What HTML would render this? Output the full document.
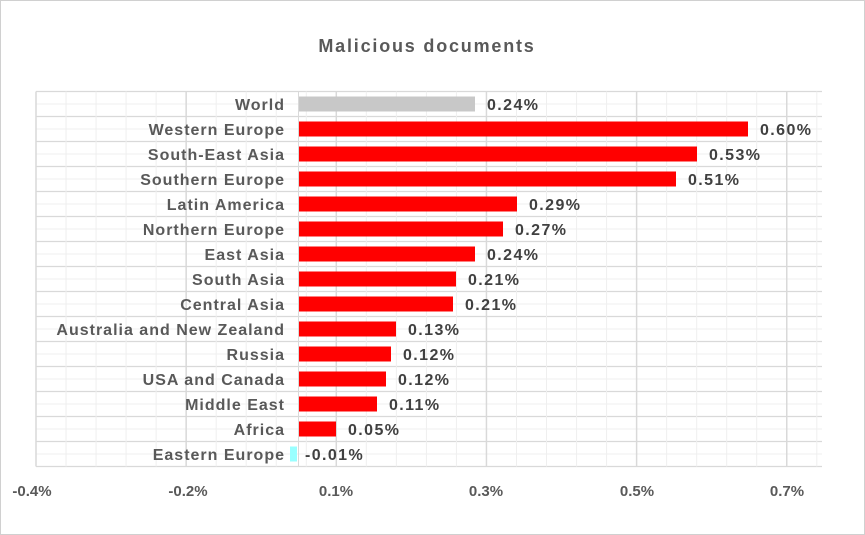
<!DOCTYPE html>
<html><head><style>
body{margin:0;background:#fff;}
svg{display:block;font-family:"Liberation Sans",sans-serif;font-weight:bold;}
</style></head><body>
<svg width="865" height="535" xmlns="http://www.w3.org/2000/svg">
<rect x="0.5" y="0.5" width="864" height="534" fill="#fff" stroke="#d0d0d0"/>
<text x="427" y="52" text-anchor="middle" font-size="18" letter-spacing="1.8" fill="#595959">Malicious documents</text>
<g id="grid"></g>
<g id="bars"></g>
<g font-size="15" fill="#595959" text-anchor="middle">
<text x="32" y="496">-0.4%</text><text x="188" y="496">-0.2%</text><text x="336" y="496">0.1%</text>
<text x="486" y="496">0.3%</text><text x="637" y="496">0.5%</text><text x="787" y="496">0.7%</text>
</g>
<script>
(function(){
var ns="http://www.w3.org/2000/svg";
var g=document.getElementById("grid"),b=document.getElementById("bars");
function el(p,t,a,txt){var e=document.createElementNS(ns,t);for(var k in a)e.setAttribute(k,a[k]);if(txt)e.textContent=txt;p.appendChild(e);return e;}
var T=91.5,B=466.5,L=36,R=822;
for(var i=0;i<=30;i++){var y=T+i*12.5;el(g,"line",{x1:L,x2:R,y1:y,y2:y,stroke:i%2?"#efefef":"#d9d9d9","stroke-width":i%2?1:1.3});}
for(var k=0;k*30.03+L<=R+1;k++){var x=L+k*30.03;el(g,"line",{x1:x,x2:x,y1:T,y2:B,stroke:k%5==0?"#d9d9d9":"#efefef","stroke-width":k%5==0?1.5:1});}
el(g,"line",{x1:298.5,x2:298.5,y1:T,y2:B,stroke:"#d9d9d9"});
var d=[["World",475,"0.24%","#c8c8c8"],["Western Europe",748,"0.60%"],["South-East Asia",697,"0.53%"],["Southern Europe",676,"0.51%"],["Latin America",517,"0.29%"],["Northern Europe",503,"0.27%"],["East Asia",475,"0.24%"],["South Asia",456,"0.21%"],["Central Asia",453,"0.21%"],["Australia and New Zealand",396,"0.13%"],["Russia",391,"0.12%"],["USA and Canada",386,"0.12%"],["Middle East",377,"0.11%"],["Africa",336,"0.05%"]];
d.forEach(function(r,i){var c=T+12.5+i*25;
el(b,"rect",{x:299,y:c-7.5,width:r[1]-299,height:15,fill:r[3]||"#ff0000"});
el(b,"text",{x:285,y:c+6,"font-size":16,"letter-spacing":1,fill:"#595959","text-anchor":"end"},r[0]);
el(b,"text",{x:r[1]+12,y:c+6,"font-size":16,"letter-spacing":1.4,fill:"#404040"},r[2]);});
var c=T+12.5+14*25;
el(b,"rect",{x:290,y:c-7.5,width:7,height:15,fill:"#99ffff"});
el(b,"text",{x:285,y:c+6,"font-size":16,"letter-spacing":1,fill:"#595959","text-anchor":"end"},"Eastern Europe");
el(b,"text",{x:305,y:c+6,"font-size":16,"letter-spacing":1.4,fill:"#404040"},"-0.01%");
})();
</script>
</svg>
</body></html>
